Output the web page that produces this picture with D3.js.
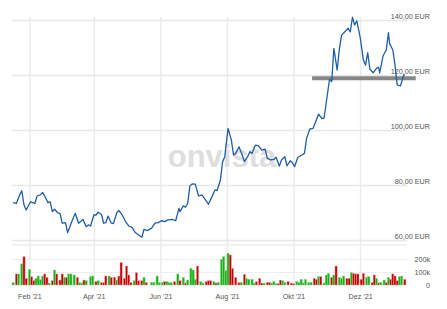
<!DOCTYPE html>
<html>
<head>
<meta charset="utf-8">
<script src="https://cdn.jsdelivr.net/npm/d3@7"></script>
<style>
body { margin: 0; background: #fff; }
text { font-family: "Liberation Sans", Arial, sans-serif; }
</style>
</head>
<body>
<svg id="chart" width="447" height="309"></svg>
<script>
// closing prices (EUR)
var priceDates = ["2021-01-17","2021-01-20","2021-01-23","2021-01-25","2021-01-27","2021-01-29","2021-02-02","2021-02-06","2021-02-08","2021-02-11",
	"2021-02-13","2021-02-15","2021-02-18","2021-02-20","2021-02-22","2021-02-24","2021-02-27","2021-03-01","2021-03-03","2021-03-06",
	"2021-03-08","2021-03-10","2021-03-13","2021-03-15","2021-03-18","2021-03-20","2021-03-22","2021-03-25","2021-03-27","2021-03-29",
	"2021-04-01","2021-04-03","2021-04-05","2021-04-08","2021-04-10","2021-04-12","2021-04-14","2021-04-17","2021-04-19","2021-04-22",
	"2021-04-24","2021-04-27","2021-04-30","2021-05-03","2021-05-06","2021-05-09","2021-05-12","2021-05-15","2021-05-17","2021-05-20",
	"2021-05-24","2021-05-27","2021-05-30","2021-06-02","2021-06-05","2021-06-08","2021-06-12","2021-06-15","2021-06-18","2021-06-19",
	"2021-06-22","2021-06-24","2021-06-26","2021-06-28","2021-06-30","2021-07-03","2021-07-06","2021-07-09","2021-07-12","2021-07-15",
	"2021-07-18","2021-07-21","2021-07-23","2021-07-26","2021-07-28","2021-07-30","2021-08-02","2021-08-05","2021-08-07","2021-08-09",
	"2021-08-12","2021-08-15","2021-08-17","2021-08-20","2021-08-22","2021-08-24","2021-08-27","2021-08-30","2021-09-02","2021-09-05",
	"2021-09-07","2021-09-10","2021-09-13","2021-09-15","2021-09-18","2021-09-20","2021-09-23","2021-09-25","2021-09-28","2021-09-30",
	"2021-10-02","2021-10-05","2021-10-09","2021-10-11","2021-10-13","2021-10-16","2021-10-19","2021-10-24","2021-10-27","2021-10-29",
	"2021-10-31","2021-11-03","2021-11-05","2021-11-07","2021-11-10","2021-11-12","2021-11-14","2021-11-17","2021-11-20","2021-11-22",
	"2021-11-24","2021-11-26","2021-11-28","2021-12-01","2021-12-04","2021-12-06","2021-12-08","2021-12-10","2021-12-13","2021-12-16",
	"2021-12-18","2021-12-19","2021-12-22","2021-12-25","2021-12-27","2021-12-28","2021-12-31","2022-01-02","2022-01-04","2022-01-07",
	"2022-01-10","2022-01-11"];
var priceValues = [73.6,73.3,76.4,77.9,72.7,70.9,73.9,73.3,76.0,76.4,
	77.3,76.0,73.6,73.9,70.3,71.2,69.9,69.7,66.1,66.3,
	62.7,64.8,67.9,69.7,66.1,66.7,67.5,64.8,65.5,65.1,
	69.1,69.1,70.1,69.3,66.1,66.3,68.7,66.1,66.0,69.9,
	70.7,69.1,66.7,65.1,64.6,62.7,61.8,61.0,63.9,63.4,
	64.3,66.1,66.3,67.0,66.7,67.3,67.5,67.0,71.5,70.3,
	72.4,71.9,73.3,79.6,80.4,80.3,76.0,76.4,74.8,73.0,
	75.5,78.2,78.0,81.8,88.5,90.3,100.6,96.4,90.9,91.5,
	93.9,90.9,88.5,90.3,92.1,91.5,94.5,94.2,92.7,93.0,
	89.7,89.1,89.3,90.1,86.9,89.1,90.3,87.0,88.8,88.1,
	86.7,90.1,91.0,91.5,97.0,100.4,100.6,105.8,104.1,104.3,
	110.0,118.4,117.6,129.7,121.8,129.3,134.5,135.7,137.0,135.7,
	141.0,138.2,139.7,133.9,125.5,123.6,128.1,122.1,120.8,122.4,
	122.8,120.8,126.9,129.1,135.4,131.5,129.1,123.6,116.4,116.0,
	120.0,120.0];

// traded volume (thousands), up = 1 green / 0 red
var volDates = ["2021-01-17","2021-01-20","2021-01-22","2021-01-25","2021-01-27","2021-01-29","2021-02-01","2021-02-03","2021-02-05","2021-02-07",
	"2021-02-09","2021-02-11","2021-02-13","2021-02-15","2021-02-17","2021-02-19","2021-02-22","2021-02-24","2021-02-26","2021-03-01",
	"2021-03-03","2021-03-05","2021-03-07","2021-03-09","2021-03-11","2021-03-14","2021-03-17","2021-03-19","2021-03-21","2021-03-23",
	"2021-03-25","2021-03-29","2021-03-31","2021-04-03","2021-04-05","2021-04-08","2021-04-10","2021-04-12","2021-04-15","2021-04-17",
	"2021-04-20","2021-04-22","2021-04-24","2021-04-26","2021-04-29","2021-05-01","2021-05-03","2021-05-05","2021-05-08","2021-05-10",
	"2021-05-12","2021-05-15","2021-05-17","2021-05-19","2021-05-24","2021-05-26","2021-05-29","2021-05-31","2021-06-03","2021-06-05",
	"2021-06-07","2021-06-09","2021-06-11","2021-06-14","2021-06-17","2021-06-19","2021-06-22","2021-06-24","2021-06-26","2021-06-29",
	"2021-07-01","2021-07-03","2021-07-05","2021-07-08","2021-07-10","2021-07-13","2021-07-15","2021-07-17","2021-07-20","2021-07-22",
	"2021-07-24","2021-07-27","2021-07-29","2021-07-31","2021-08-02","2021-08-04","2021-08-06","2021-08-09","2021-08-12","2021-08-14",
	"2021-08-17","2021-08-19","2021-08-21","2021-08-24","2021-08-26","2021-08-28","2021-08-31","2021-09-02","2021-09-04","2021-09-07",
	"2021-09-09","2021-09-11","2021-09-13","2021-09-15","2021-09-17","2021-09-19","2021-09-21","2021-09-23","2021-09-26","2021-09-29",
	"2021-10-01","2021-10-04","2021-10-06","2021-10-08","2021-10-10","2021-10-12","2021-10-15","2021-10-17","2021-10-20","2021-10-22",
	"2021-10-24","2021-10-26","2021-10-29","2021-10-31","2021-11-02","2021-11-05","2021-11-07","2021-11-09","2021-11-12","2021-11-14",
	"2021-11-16","2021-11-19","2021-11-21","2021-11-23","2021-11-25","2021-11-27","2021-11-29","2021-12-02","2021-12-04","2021-12-07",
	"2021-12-09","2021-12-12","2021-12-14","2021-12-16","2021-12-18","2021-12-20","2021-12-23","2021-12-25","2021-12-27","2021-12-29",
	"2021-12-31","2022-01-02","2022-01-04","2022-01-06","2022-01-08","2022-01-11"];
var volValues = [18,85,85,162,218,51,120,64,33,51,
	69,40,69,85,59,15,33,115,85,38,
	85,59,59,85,85,77,59,21,15,38,
	33,64,69,26,33,18,18,69,69,59,
	59,38,69,172,51,146,77,18,33,95,
	33,33,59,18,21,21,69,18,21,26,
	26,18,18,26,85,33,59,15,38,128,
	115,44,146,26,15,26,33,33,26,15,
	21,198,218,110,244,231,128,59,18,21,
	82,51,44,44,15,26,51,15,15,21,
	21,15,26,10,10,38,33,21,26,15,
	10,26,21,44,15,44,18,21,51,44,
	64,64,15,77,90,59,77,146,59,51,
	69,51,51,95,90,85,85,44,90,59,
	64,18,77,51,15,21,38,18,59,44,
	85,69,33,64,69,44];
var volUp = [1,0,1,1,0,0,1,0,0,1,
	1,1,1,0,0,1,0,1,0,0,
	0,1,0,1,1,1,0,1,1,0,
	1,1,1,0,1,0,0,0,1,0,
	0,1,0,0,0,0,0,0,1,0,
	0,0,1,0,1,1,1,1,1,0,
	1,1,1,0,1,0,1,0,1,1,
	1,1,0,1,1,0,0,0,1,0,
	1,1,1,1,1,0,0,0,0,1,
	0,1,1,1,1,0,0,0,1,0,
	0,1,1,1,0,0,1,1,0,0,
	0,1,1,1,1,1,1,1,0,0,
	1,0,1,1,1,0,1,0,1,1,
	1,0,0,1,0,0,0,0,0,1,
	1,0,0,1,0,1,1,0,1,0,
	0,0,0,1,1,0];

var priceTicks = [60, 80, 100, 120, 140];
var volTicks = [0, 100, 200];
var tickDates = ["2021-02-01", "2021-04-01", "2021-06-01", "2021-08-01", "2021-10-01", "2021-12-01"];
var tickLabels = ["Feb '21", "Apr '21", "Jun '21", "Aug '21", "Okt '21", "Dez '21"];
var refLevel = 118.8;
var refDates = ["2021-10-18", "2022-01-21"];

var parse = d3.timeParse("%Y-%m-%d");
var svg = d3.select("#chart");
var x = d3.scaleTime().domain([parse("2021-01-16"), parse("2022-01-13")]).range([12, 407]);
var y = d3.scaleLinear().domain([60, 140]).range([240, 20]);
var yVol = d3.scaleLinear().domain([0, 200]).range([285, 259]);
var eur = d3.formatLocale({decimal: ",", thousands: ".", grouping: [3], currency: ["", " EUR"]}).format("$.2f");

// grid
var vGrid = svg.append("g").attr("transform", "translate(0,290)")
	.call(d3.axisBottom(x).tickValues(tickDates.map(parse)).tickSize(-273).tickPadding(4)
		.tickFormat(function (d, i) { return tickLabels[i]; }));
vGrid.select(".domain").remove();
vGrid.selectAll("line").attr("stroke", "#ececec").attr("stroke-width", "1.5");
vGrid.selectAll("text").attr("fill", "#555").attr("font-size", "7.2px").attr("font-family", null);

var hGrid = svg.append("g").attr("transform", "translate(407,0)")
	.call(d3.axisLeft(y).tickValues(priceTicks).tickSize(395).tickFormat(""));
hGrid.select(".domain").remove();
hGrid.selectAll("line").attr("stroke", "#e8e8e8").attr("stroke-width", "1.5");

svg.append("line").attr("x1", 12).attr("x2", 407).attr("y1", 245).attr("y2", 245)
	.attr("stroke", "#ececec").attr("stroke-width", "1.5");
var vGridVol = svg.append("g").attr("transform", "translate(407,0)")
	.call(d3.axisLeft(yVol).tickValues(volTicks.slice(1)).tickSize(395).tickFormat(""));
vGridVol.select(".domain").remove();
vGridVol.selectAll("line").attr("stroke", "#eeeeee").attr("stroke-width", "1");

// watermark
svg.append("text").attr("x", 222).attr("y", 167).attr("text-anchor", "middle")
	.attr("font-family", "'Open Sans', sans-serif").attr("font-weight", "bold").attr("font-size", "31px")
	.attr("fill", "#dedede").text("onvista");

// volume bars
svg.append("g").selectAll("rect").data(volValues).enter().append("rect")
	.attr("x", function (d, i) { return x(parse(volDates[i])) - 1.1; })
	.attr("width", 2.2)
	.attr("y", function (d) { return yVol(d); })
	.attr("height", function (d) { return yVol(0) - yVol(d); })
	.attr("fill", function (d, i) { return volUp[i] ? "#17b017" : "#c40000"; })
	.attr("stroke", function (d, i) { return volUp[i] ? "#8fd88f" : "#e8a0a0"; })
	.attr("stroke-width", "0.5");

// reference level
svg.append("line")
	.attr("x1", x(parse(refDates[0]))).attr("x2", x(parse(refDates[1])))
	.attr("y1", y(refLevel)).attr("y2", y(refLevel))
	.attr("stroke", "#7a7a7a").attr("stroke-width", "4").attr("opacity", "0.9");

// price line
var line = d3.line()
	.x(function (d, i) { return x(parse(priceDates[i])); })
	.y(function (d) { return y(d); });
svg.append("path").datum(priceValues).attr("d", line)
	.attr("fill", "none").attr("stroke", "#1f5ea8").attr("stroke-width", "1.3").attr("stroke-linejoin", "round");

// labels
var pAxis = svg.append("g").attr("transform", "translate(430,0)")
	.call(d3.axisRight(y).tickValues(priceTicks).tickSize(0).tickPadding(0).tickFormat(eur));
pAxis.select(".domain").remove();
pAxis.selectAll("text").attr("text-anchor", "end").attr("dy", "-2").attr("fill", "#555")
	.attr("font-size", "7.2px").attr("font-family", null);

var vAxis = svg.append("g").attr("transform", "translate(430,0)")
	.call(d3.axisRight(yVol).tickValues(volTicks).tickSize(0).tickPadding(0)
		.tickFormat(function (d) { return d == 0 ? "0" : d + "k"; }));
vAxis.select(".domain").remove();
vAxis.selectAll("text").attr("text-anchor", "end").attr("dy", "0.32em").attr("fill", "#555")
	.attr("font-size", "7.2px").attr("font-family", null);
</script>
</body>
</html>
